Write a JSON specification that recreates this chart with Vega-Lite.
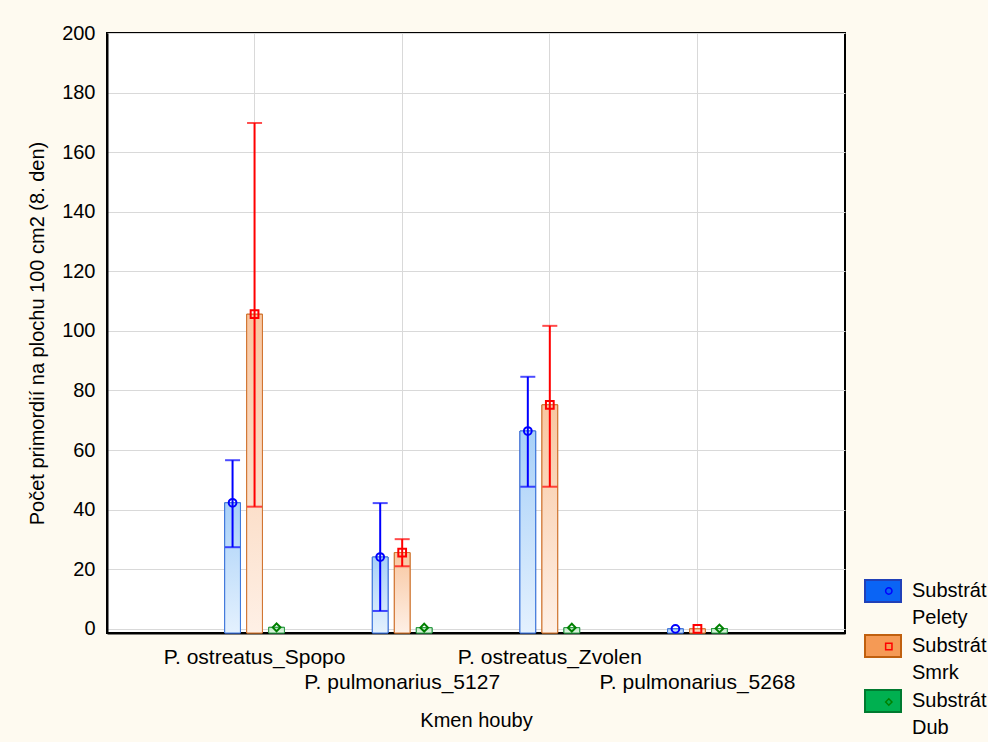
{
  "$schema": "https://vega.github.io/schema/vega-lite/v6.json",
  "autosize": {"type": "none"},
  "padding": {"left": 107, "top": 33, "right": 143, "bottom": 109},
  "width": 738,
  "height": 600,
  "background": "#FEFAF0",
  "config": {
    "font": "Liberation Sans",
    "view": {"stroke": "#000000", "strokeWidth": 2, "fill": "#FFFFFF"},
    "axis": {"labelFontSize": 20, "titleFontSize": 20, "labelColor": "#000", "titleColor": "#000", "titleFontWeight": "normal", "domainColor": "#000", "domainWidth": 2, "gridColor": "#D9D9D9", "gridWidth": 1, "ticks": false, "tickSize": 0},
    "legend": {"padding": 0, "labelFontSize": 20, "labelColor": "#000", "labelLimit": 0}
  },
  "data": {"values": [
    {"strain": "P. ostreatus_Spopo", "sub": "Pelety", "mean": 42.3, "lo": 27.4, "hi": 56.6},
    {"strain": "P. ostreatus_Spopo", "sub": "Smrk", "mean": 105.6, "lo": 41.0, "hi": 169.8},
    {"strain": "P. ostreatus_Spopo", "sub": "Dub", "mean": 0.5, "lo": null, "hi": null},
    {"strain": "P. pulmonarius_5127", "sub": "Pelety", "mean": 24.1, "lo": 6.0, "hi": 42.2},
    {"strain": "P. pulmonarius_5127", "sub": "Smrk", "mean": 25.6, "lo": 21.0, "hi": 30.1},
    {"strain": "P. pulmonarius_5127", "sub": "Dub", "mean": 0.4, "lo": null, "hi": null},
    {"strain": "P. ostreatus_Zvolen", "sub": "Pelety", "mean": 66.4, "lo": 47.7, "hi": 84.6},
    {"strain": "P. ostreatus_Zvolen", "sub": "Smrk", "mean": 75.2, "lo": 47.7, "hi": 101.7},
    {"strain": "P. ostreatus_Zvolen", "sub": "Dub", "mean": 0.4, "lo": null, "hi": null},
    {"strain": "P. pulmonarius_5268", "sub": "Pelety", "mean": 0.0, "lo": null, "hi": null},
    {"strain": "P. pulmonarius_5268", "sub": "Smrk", "mean": 0.0, "lo": null, "hi": null},
    {"strain": "P. pulmonarius_5268", "sub": "Dub", "mean": 0.1, "lo": null, "hi": null}
  ]},
  "encoding": {
    "x": {"field": "strain", "type": "nominal",
      "scale": {"domain": ["P. ostreatus_Spopo", "P. pulmonarius_5127", "P. ostreatus_Zvolen", "P. pulmonarius_5268"], "paddingInner": 0.553, "paddingOuter": 0.776},
      "axis": {"title": "Kmen houby", "labelAngle": 0, "labelFontSize": 21, "grid": true, "labelOverlap": false, "labelLimit": 0, "titlePadding": 18,
        "labelPadding": {"condition": {"test": "indexof(['P. pulmonarius_5127','P. pulmonarius_5268'], datum.value) >= 0", "value": 38}, "value": 13}}},
    "xOffset": {"field": "sub", "type": "nominal", "scale": {"domain": ["Pelety", "Smrk", "Dub"], "paddingInner": 0.286, "paddingOuter": 0.143}}
  },
  "resolve": {"legend": {"color": "independent", "shape": "independent"}},
  "layer": [
    {
      "mark": {"type": "bar", "strokeWidth": 1},
      "encoding": {
        "y": {"field": "mean", "type": "quantitative", "scale": {"domain": [-1.4, 200], "nice": false, "zero": false},
          "axis": {"title": "Počet primordií na plochu 100 cm2 (8. den)", "values": [0, 20, 40, 60, 80, 100, 120, 140, 160, 180, 200], "labelPadding": 12, "titlePadding": 14, "grid": true}},
        "y2": {"datum": -1.4},
        "fill": {"field": "sub", "type": "nominal", "scale": {"domain": ["Pelety", "Smrk", "Dub"], "range": ["#0A64F5", "#F59A55", "#00B050"]},
          "legend": {"title": null, "orient": "none", "legendX": 765, "legendY": 547, "symbolType": "M-1.8,-1.1L1.8,-1.1L1.8,1.1L-1.8,1.1Z", "symbolSize": 400, "symbolStrokeWidth": 2, "labelOffset": 18, "labelExpr": "['Substrát', datum.label]", "labelBaseline": "middle", "rowPadding": 3,
            "encoding": {"labels": {"lineHeight": {"value": 27}}}}},
        "stroke": {"field": "sub", "type": "nominal", "scale": {"domain": ["Pelety", "Smrk", "Dub"], "range": ["#2040B8", "#C0600F", "#007A30"]}}
      }
    },
    {
      "transform": [{"filter": "datum.sub == 'Pelety'"}],
      "mark": {"type": "bar", "strokeWidth": 1, "stroke": "#3C78DC",
        "fill": {"gradient": "linear", "x1": 0, "y1": 0, "x2": 0, "y2": 1, "stops": [{"offset": 0, "color": "#A8D0F8"}, {"offset": 1, "color": "#E4F1FE"}]}},
      "encoding": {"y": {"field": "mean", "type": "quantitative"}, "y2": {"datum": -1.4}}
    },
    {
      "transform": [{"filter": "datum.sub == 'Smrk'"}],
      "mark": {"type": "bar", "strokeWidth": 1, "stroke": "#D0722E",
        "fill": {"gradient": "linear", "x1": 0, "y1": 0, "x2": 0, "y2": 1, "stops": [{"offset": 0, "color": "#F8C6A0"}, {"offset": 1, "color": "#FEF0E6"}]}},
      "encoding": {"y": {"field": "mean", "type": "quantitative"}, "y2": {"datum": -1.4}}
    },
    {
      "transform": [{"filter": "datum.sub == 'Dub'"}],
      "mark": {"type": "bar", "strokeWidth": 1, "stroke": "#2E9A44",
        "fill": {"gradient": "linear", "x1": 0, "y1": 0, "x2": 0, "y2": 1, "stops": [{"offset": 0, "color": "#B8E8C0"}, {"offset": 1, "color": "#E8F8EA"}]}},
      "encoding": {"y": {"field": "mean", "type": "quantitative"}, "y2": {"datum": -1.4}}
    },
    {
      "transform": [{"filter": "datum.lo != null"}],
      "mark": {"type": "rule", "strokeWidth": 2},
      "encoding": {
        "y": {"field": "lo", "type": "quantitative"}, "y2": {"field": "hi"},
        "color": {"field": "sub", "type": "nominal", "scale": {"domain": ["Pelety", "Smrk", "Dub"], "range": ["#0000FF", "#FF0000", "#008000"]}, "legend": null}
      }
    },
    {
      "transform": [{"filter": "datum.lo != null"}],
      "mark": {"type": "tick", "thickness": 2, "size": 15},
      "encoding": {
        "y": {"field": "hi", "type": "quantitative"},
        "color": {"field": "sub", "type": "nominal", "legend": null}
      }
    },
    {
      "transform": [{"filter": "datum.lo != null"}],
      "mark": {"type": "tick", "thickness": 2, "size": 15},
      "encoding": {
        "y": {"field": "lo", "type": "quantitative"},
        "color": {"field": "sub", "type": "nominal", "legend": null}
      }
    },
    {
      "mark": {"type": "point", "filled": false, "strokeWidth": 2, "size": 60, "opacity": 1},
      "encoding": {
        "y": {"field": "mean", "type": "quantitative"},
        "color": {"field": "sub", "type": "nominal", "legend": {"title": null, "orient": "none", "legendX": 771.8, "legendY": 548, "symbolSize": 40, "symbolStrokeWidth": 1.5, "labelOffset": 18, "labelExpr": "['Substrát', datum.label]", "labelBaseline": "middle", "rowPadding": 8.5, "labelOpacity": 0,
          "encoding": {"labels": {"lineHeight": {"value": 27}}}}},
        "shape": {"field": "sub", "type": "nominal", "scale": {"domain": ["Pelety", "Smrk", "Dub"], "range": ["circle", "square", "diamond"]}, "legend": {"title": null, "orient": "none", "legendX": 771.8, "legendY": 548, "symbolSize": 40, "symbolStrokeWidth": 1.5, "labelOffset": 18, "labelExpr": "['Substrát', datum.label]", "labelBaseline": "middle", "rowPadding": 8.5, "labelOpacity": 0,
          "encoding": {"labels": {"lineHeight": {"value": 27}}}}}
      }
    }
  ]
}
